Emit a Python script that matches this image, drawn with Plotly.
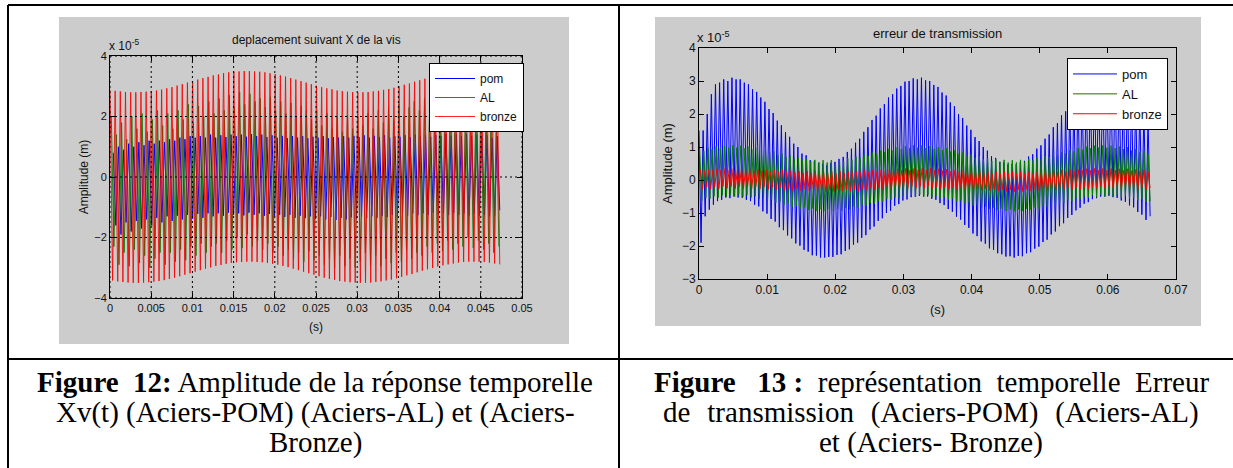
import numpy as np
import plotly.graph_objects as go

W, H = 1233, 468

# ---------------- Figure 12 : displacement along X (units of 1e-5 m) ----------------
P1_T_END = 0.0473
P1_XTICKS = [0, 0.005, 0.01, 0.015, 0.02, 0.025, 0.03, 0.035, 0.04, 0.045, 0.05]
P1_XTICKTEXT = ["0", "0.005", "0.01", "0.015", "0.02", "0.025", "0.03", "0.035", "0.04", "0.045", "0.05"]
P1_YTICKS = [-4, -2, 0, 2, 4]

# per-cycle upper / lower peaks
P1_POM_UP = [0.8, 1.0, 0.9, 1.1, 1.0, 1.15, 1.05, 1.2, 1.1, 1.2,
             1.15, 1.25, 1.2, 1.3, 1.25, 1.35, 1.3, 1.35, 1.3, 1.4,
             1.3, 1.38, 1.32, 1.4, 1.35, 1.4, 1.33, 1.42, 1.35, 1.4,
             1.32, 1.38, 1.3, 1.36, 1.28, 1.35, 1.3, 1.35, 1.28, 1.33,
             1.3, 1.35, 1.28, 1.32, 1.3, 1.35, 1.3, 1.36, 1.32, 1.38,
             1.3, 1.36, 1.32, 1.38, 1.3, 1.35, 1.33, 1.38, 1.32, 1.4,
             1.35, 1.4, 1.33, 1.38, 1.35, 1.42, 1.36, 1.4, 1.35, 1.42,
             1.36, 1.4, 1.35, 1.38, 1.3, 1.35]
P1_POM_LO = [-1.6, -1.9, -1.5, -1.8, -1.45, -1.7, -1.4, -1.6, -1.35, -1.5,
             -1.3, -1.45, -1.28, -1.4, -1.25, -1.38, -1.22, -1.35, -1.2, -1.3,
             -1.2, -1.28, -1.18, -1.25, -1.2, -1.27, -1.18, -1.25, -1.2, -1.28,
             -1.22, -1.3, -1.25, -1.32, -1.25, -1.35, -1.28, -1.36, -1.3, -1.38,
             -1.3, -1.4, -1.32, -1.42, -1.35, -1.4, -1.33, -1.38, -1.3, -1.36,
             -1.3, -1.35, -1.28, -1.32, -1.25, -1.3, -1.22, -1.28, -1.2, -1.26,
             -1.2, -1.25, -1.18, -1.24, -1.2, -1.26, -1.18, -1.25, -1.2, -1.27,
             -1.22, -1.28, -1.25, -1.3, -1.28, -1.1]
P1_AL_UP = [2.0, 1.4, 1.8, 1.25, 2.0, 1.6, 2.1, 1.5, 1.9, 2.2,
            1.7, 2.1, 1.6, 2.2, 1.9, 2.4, 1.8, 2.35, 2.0, 2.5,
            2.1, 2.6, 2.2, 2.7, 2.3, 2.8, 2.4, 2.75, 2.5, 2.6,
            2.3, 2.65, 2.2, 2.5, 2.1, 2.45, 2.0, 2.35, 2.2, 1.9,
            2.2, 1.7, 2.1, 1.6, 2.0, 1.5, 2.05, 1.6, 2.0, 1.7,
            2.1, 1.6, 2.2, 1.8, 2.3, 1.9, 2.4, 2.0, 2.3, 2.5,
            2.2, 2.6, 2.3, 2.65, 2.4, 2.7, 2.5, 2.8, 2.6, 2.5,
            2.65, 2.3, 2.6, 2.2, 2.5, 2.0]
P1_AL_LO = [-2.3, -2.9, -2.5, -2.95, -2.4, -2.85, -2.6, -3.0, -2.7, -2.5,
            -2.9, -2.5, -2.8, -2.4, -2.75, -2.3, -2.6, -2.2, -2.5, -2.3,
            -2.2, -2.5, -2.1, -2.4, -2.0, -2.35, -1.9, -2.3, -2.1, -2.4,
            -2.2, -2.5, -2.3, -2.6, -2.4, -2.7, -2.5, -2.8, -2.45, -2.75,
            -2.6, -2.9, -2.7, -3.0, -2.6, -2.95, -2.7, -3.0, -2.8, -2.5,
            -2.9, -2.6, -2.95, -2.7, -2.85, -2.5, -2.8, -2.4, -2.7, -2.5,
            -2.6, -2.3, -2.5, -2.2, -2.45, -2.1, -2.4, -2.2, -2.3, -2.0,
            -2.35, -2.1, -2.4, -2.2, -2.5, -2.3]
P1_BRONZE_UP = [2.88, 2.85, 2.83, 2.81, 2.80, 2.80, 2.81, 2.82, 2.84, 2.86,
                2.89, 2.93, 2.97, 3.02, 3.07, 3.12, 3.17, 3.22, 3.27, 3.31,
                3.36, 3.39, 3.43, 3.46, 3.48, 3.49, 3.50, 3.50, 3.49, 3.48,
                3.46, 3.43, 3.40, 3.36, 3.32, 3.27, 3.22, 3.17, 3.12, 3.07,
                3.02, 2.97, 2.93, 2.90, 2.86, 2.84, 2.82, 2.81, 2.80, 2.80,
                2.81, 2.83, 2.85, 2.88, 2.91, 2.95, 3.00, 3.05, 3.09, 3.15,
                3.20, 3.25, 3.29, 3.34, 3.38, 3.41, 3.44, 3.47, 3.49, 3.50,
                3.50, 3.50, 3.49, 3.47, 3.44, 3.41]
P1_BRONZE_LO = [-3.42, -3.45, -3.47, -3.49, -3.50, -3.50, -3.49, -3.48, -3.46, -3.44,
                -3.41, -3.37, -3.33, -3.28, -3.23, -3.18, -3.13, -3.08, -3.03, -2.99,
                -2.94, -2.91, -2.87, -2.84, -2.82, -2.81, -2.80, -2.80, -2.81, -2.82,
                -2.84, -2.87, -2.90, -2.94, -2.98, -3.03, -3.08, -3.13, -3.18, -3.23,
                -3.28, -3.33, -3.37, -3.40, -3.44, -3.46, -3.48, -3.49, -3.50, -3.50,
                -3.49, -3.47, -3.45, -3.42, -3.39, -3.35, -3.30, -3.25, -3.21, -3.15,
                -3.10, -3.05, -3.01, -2.96, -2.92, -2.89, -2.86, -2.83, -2.81, -2.80,
                -2.80, -2.80, -2.81, -2.83, -2.86, -2.89]

# ---------------- Figure 13 : transmission error (units of 1e-5 m) ----------------
P2_T_END = 0.0662
P2_XTICKS = [0, 0.01, 0.02, 0.03, 0.04, 0.05, 0.06, 0.07]
P2_XTICKTEXT = ["0", "0.01", "0.02", "0.03", "0.04", "0.05", "0.06", "0.07"]
P2_YTICKS = [-3, -2, -1, 0, 1, 2, 3, 4]

P2_POM_UP = [1.5, 1.5, 2.0, 2.6, 2.9, 2.95, 3.05, 3.0, 3.1, 3.05,
             3.05, 2.95, 2.9, 2.75, 2.67, 2.5, 2.37, 2.15, 2.03, 1.8,
             1.66, 1.45, 1.31, 1.1, 1.0, 0.8, 0.75, 0.6, 0.57, 0.5,
             0.49, 0.45, 0.52, 0.55, 0.64, 0.7, 0.85, 0.95, 1.13, 1.25,
             1.46, 1.6, 1.82, 1.95, 2.17, 2.3, 2.5, 2.6, 2.77, 2.85,
             2.98, 3.0, 3.08, 3.05, 3.1, 3.02, 3.0, 2.88, 2.82, 2.65,
             2.56, 2.35, 2.24, 2.0, 1.88, 1.65, 1.52, 1.3, 1.18, 1.0,
             0.89, 0.72, 0.67, 0.55, 0.53, 0.47, 0.49, 0.48, 0.55, 0.58,
             0.71, 0.78, 0.95, 1.05, 1.25, 1.38, 1.6, 1.72, 1.96, 2.08,
             2.31, 2.4, 2.62, 2.7, 2.86, 2.9, 3.03, 3.0, 3.1, 3.05,
             3.07, 2.95, 2.94, 2.78, 2.72, 2.52, 2.43, 2.2, 2.1, 1.85]
P2_POM_LO = [-1.9, -1.1, -0.9, -0.75, -0.64, -0.6, -0.53, -0.55, -0.5, -0.53,
             -0.54, -0.6, -0.64, -0.75, -0.8, -0.95, -1.02, -1.18, -1.26, -1.43,
             -1.52, -1.68, -1.77, -1.92, -1.99, -2.12, -2.17, -2.28, -2.29, -2.35,
             -2.35, -2.33, -2.33, -2.27, -2.25, -2.15, -2.1, -1.96, -1.9, -1.75,
             -1.67, -1.5, -1.41, -1.24, -1.16, -1.0, -0.93, -0.78, -0.73, -0.62,
             -0.59, -0.52, -0.51, -0.48, -0.5, -0.5, -0.57, -0.6, -0.7, -0.76,
             -0.88, -0.96, -1.11, -1.2, -1.36, -1.45, -1.62, -1.7, -1.86, -1.93,
             -2.07, -2.12, -2.22, -2.25, -2.32, -2.31, -2.35, -2.3, -2.31, -2.22,
             -2.19, -2.08, -2.02, -1.88, -1.81, -1.65, -1.56, -1.4, -1.31, -1.15,
             -1.06, -0.92, -0.84, -0.72, -0.67, -0.58, -0.55, -0.5, -0.5, -0.48,
             -0.52, -0.54, -0.62, -0.66, -0.77, -0.83, -0.97, -1.05, -1.21, -1.1]
P2_AL_UP = [0.93, 0.88, 0.98, 0.93, 1.02, 0.96, 1.04, 0.98, 1.05, 0.98,
            1.04, 0.96, 1.02, 0.93, 0.98, 0.88, 0.92, 0.83, 0.87, 0.76,
            0.80, 0.70, 0.74, 0.64, 0.69, 0.59, 0.64, 0.56, 0.61, 0.54,
            0.60, 0.53, 0.60, 0.54, 0.63, 0.57, 0.66, 0.61, 0.71, 0.67,
            0.77, 0.73, 0.83, 0.79, 0.89, 0.85, 0.95, 0.90, 0.99, 0.94,
            1.03, 0.97, 1.05, 0.98, 1.05, 0.97, 1.03, 0.95, 1.00, 0.91,
            0.96, 0.86, 0.90, 0.80, 0.84, 0.74, 0.78, 0.68, 0.72, 0.62,
            0.67, 0.58, 0.63, 0.55, 0.61, 0.53, 0.60, 0.53, 0.61, 0.55,
            0.64, 0.59, 0.68, 0.63, 0.73, 0.69, 0.79, 0.75, 0.85, 0.81,
            0.91, 0.87, 0.97, 0.92, 1.01, 0.96, 1.04, 0.98, 1.05, 0.98,
            1.04, 0.97, 1.02, 0.94, 0.99, 0.89, 0.94, 0.84, 0.88, 0.78]
P2_AL_LO = [-0.63, -0.54, -0.57, -0.49, -0.53, -0.46, -0.51, -0.44, -0.50, -0.44,
            -0.51, -0.46, -0.53, -0.49, -0.57, -0.54, -0.63, -0.60, -0.69, -0.66,
            -0.75, -0.72, -0.81, -0.78, -0.86, -0.83, -0.91, -0.86, -0.94, -0.89,
            -0.95, -0.89, -0.95, -0.88, -0.93, -0.85, -0.89, -0.81, -0.84, -0.75,
            -0.78, -0.69, -0.72, -0.63, -0.66, -0.57, -0.60, -0.52, -0.56, -0.48,
            -0.52, -0.45, -0.50, -0.44, -0.50, -0.45, -0.52, -0.47, -0.55, -0.51,
            -0.59, -0.56, -0.65, -0.62, -0.71, -0.68, -0.77, -0.74, -0.83, -0.80,
            -0.88, -0.84, -0.92, -0.87, -0.94, -0.89, -0.95, -0.89, -0.94, -0.87,
            -0.91, -0.83, -0.87, -0.79, -0.82, -0.73, -0.76, -0.67, -0.70, -0.61,
            -0.64, -0.55, -0.58, -0.50, -0.54, -0.46, -0.51, -0.44, -0.50, -0.44,
            -0.51, -0.46, -0.53, -0.48, -0.57, -0.53, -0.62, -0.58, -0.67, -0.64]
P2_BRONZE_UP = [0.32, 0.28, 0.33, 0.29, 0.34, 0.30, 0.35, 0.30, 0.35, 0.30,
                0.35, 0.30, 0.34, 0.29, 0.33, 0.28, 0.32, 0.27, 0.31, 0.25,
                0.29, 0.24, 0.28, 0.23, 0.27, 0.21, 0.26, 0.21, 0.25, 0.20,
                0.25, 0.20, 0.25, 0.20, 0.26, 0.21, 0.26, 0.22, 0.27, 0.23,
                0.29, 0.24, 0.30, 0.26, 0.31, 0.27, 0.33, 0.28, 0.34, 0.29,
                0.35, 0.30, 0.35, 0.30, 0.35, 0.30, 0.35, 0.29, 0.34, 0.28,
                0.33, 0.27, 0.32, 0.26, 0.30, 0.25, 0.29, 0.23, 0.28, 0.22,
                0.27, 0.21, 0.26, 0.20, 0.25, 0.20, 0.25, 0.20, 0.25, 0.20,
                0.26, 0.21, 0.27, 0.22, 0.28, 0.24, 0.29, 0.25, 0.31, 0.26,
                0.32, 0.28, 0.33, 0.29, 0.34, 0.29, 0.35, 0.30, 0.35, 0.30,
                0.35, 0.30, 0.34, 0.29, 0.34, 0.28, 0.32, 0.27, 0.31, 0.25]
P2_BRONZE_LO = [-0.28, -0.21, -0.27, -0.20, -0.26, -0.19, -0.25, -0.19, -0.25, -0.19,
                -0.25, -0.19, -0.26, -0.20, -0.27, -0.21, -0.28, -0.22, -0.29, -0.24,
                -0.31, -0.25, -0.32, -0.26, -0.33, -0.28, -0.34, -0.28, -0.35, -0.29,
                -0.35, -0.29, -0.35, -0.29, -0.34, -0.28, -0.34, -0.27, -0.33, -0.26,
                -0.31, -0.25, -0.30, -0.23, -0.29, -0.22, -0.27, -0.21, -0.26, -0.20,
                -0.25, -0.19, -0.25, -0.19, -0.25, -0.19, -0.25, -0.20, -0.26, -0.21,
                -0.27, -0.22, -0.28, -0.23, -0.30, -0.24, -0.31, -0.26, -0.32, -0.27,
                -0.33, -0.28, -0.34, -0.29, -0.35, -0.29, -0.35, -0.29, -0.35, -0.29,
                -0.34, -0.28, -0.33, -0.27, -0.32, -0.25, -0.31, -0.24, -0.29, -0.23,
                -0.28, -0.21, -0.27, -0.20, -0.26, -0.20, -0.25, -0.19, -0.25, -0.19,
                -0.25, -0.19, -0.26, -0.20, -0.26, -0.21, -0.28, -0.22, -0.29, -0.24]

SERIES_NAMES = ["pom", "AL", "bronze"]
SERIES_COLORS = ["#0000FF", "#008000", "#FF0000"]

NB = "\u00a0"      # extra space used to mimic the justified caption lines
TS = "\u2004"
CAPTION_12 = ["<b>Figure" + NB + NB + "12:</b> Amplitude de la réponse temporelle",
              "Xv(t) (Aciers-POM) (Aciers-AL) et (Aciers-",
              "Bronze)"]
CAPTION_13 = ["<b>Figure" + NB + NB + NB + "13" + NB + ":</b>" + NB + " représentation" + NB
              + " temporelle" + NB + " Erreur",
              "de" + TS + " transmission" + TS + " (Aciers-POM)" + TS + " (Aciers-AL)",
              "et (Aciers- Bronze)"]


def px_x(p):
    return p / W


def px_y(p):
    return 1 - p / H


def zigzag(up, lo, t0, t1):
    y = []
    for a, b in zip(up, lo):
        y += [a, b]
    x = np.linspace(t0, t1, len(y))
    return x, y


fig = go.Figure()

# (up, lo, start, end, width)
p1 = [(P1_POM_UP, P1_POM_LO, 0.0004, P1_T_END, 1.0),
      (P1_AL_UP, P1_AL_LO, 0.00016, P1_T_END - 0.0001, 0.9),
      (P1_BRONZE_UP, P1_BRONZE_LO, 0.0, P1_T_END, 0.85)]
for (up, lo, t0, t1, lw), name, col in zip(p1, SERIES_NAMES, SERIES_COLORS):
    x, y = zigzag(up, lo, t0, t1)
    fig.add_trace(go.Scatter(x=x, y=y, mode="lines", name=name, line=dict(color=col, width=lw),
                             xaxis="x", yaxis="y", legend="legend", hoverinfo="skip"))

p2 = [(P2_POM_UP, P2_POM_LO, 0.0), (P2_AL_UP, P2_AL_LO, 0.0001), (P2_BRONZE_UP, P2_BRONZE_LO, 0.0002)]
for (up, lo, t0), name, col in zip(p2, SERIES_NAMES, SERIES_COLORS):
    x, y = zigzag(up, lo, t0, P2_T_END)
    fig.add_trace(go.Scatter(x=x, y=y, mode="lines", name=name, line=dict(color=col, width=1),
                             xaxis="x2", yaxis="y2", legend="legend2", hoverinfo="skip"))

SANS = "Liberation Sans, Arial, sans-serif"
F1 = dict(family=SANS, size=11, color="#111111")
F1T = dict(family=SANS, size=12, color="#111111")
F1L = dict(family=SANS, size=12, color="#111111")
F2 = dict(family=SANS, size=12, color="#111111")
F2T = dict(family=SANS, size=13, color="#111111")


def axis_common(font):
    return dict(showline=True, linecolor="black", linewidth=1, mirror="ticks",
                ticks="inside", ticklen=5, tickcolor="black", tickfont=font,
                zeroline=False, showgrid=False, fixedrange=True)


fig.update_layout(
    width=W, height=H, margin=dict(l=0, r=0, t=0, b=0),
    template="none", paper_bgcolor="white", plot_bgcolor="white",
    xaxis=dict(domain=[px_x(110), px_x(522)], range=[0, 0.05], tickvals=P1_XTICKS,
               ticktext=P1_XTICKTEXT, anchor="y",
               title=dict(text="(s)", font=F1T, standoff=9), **axis_common(F1)),
    yaxis=dict(domain=[px_y(298), px_y(56)], range=[-4, 4], tickvals=P1_YTICKS, anchor="x",
               title=dict(text="Amplitude (m)", font=F1T, standoff=3), **axis_common(F1)),
    xaxis2=dict(domain=[px_x(699), px_x(1176)], range=[0, 0.07], tickvals=P2_XTICKS,
                ticktext=P2_XTICKTEXT, anchor="y2",
                title=dict(text="(s)", font=F2T, standoff=8), **axis_common(F2)),
    yaxis2=dict(domain=[px_y(279), px_y(48)], range=[-3, 4], tickvals=P2_YTICKS, anchor="x2",
                title=dict(text="Amplitude (m)", font=F2T, standoff=6), **axis_common(F2)),
    legend=dict(x=px_x(429), y=px_y(63), xanchor="left", yanchor="top", bgcolor="white",
                bordercolor="black", borderwidth=1, font=F1L, tracegroupgap=0, itemwidth=40),
    legend2=dict(x=px_x(1067), y=px_y(58), xanchor="left", yanchor="top", bgcolor="white",
                 bordercolor="black", borderwidth=1, font=F2T, tracegroupgap=0, itemwidth=44),
    showlegend=True,
)

shapes = []
# grey MATLAB figure panels
shapes.append(dict(type="rect", xref="paper", yref="paper", x0=px_x(59), x1=px_x(569),
                   y0=px_y(344), y1=px_y(17), fillcolor="#CCCCCC", line=dict(width=0), layer="below"))
shapes.append(dict(type="rect", xref="paper", yref="paper", x0=px_x(655), x1=px_x(1201),
                   y0=px_y(326), y1=px_y(17), fillcolor="#CCCCCC", line=dict(width=0), layer="below"))
# dotted grid of figure 12, drawn over the curves like MATLAB
for xv in P1_XTICKS:
    shapes.append(dict(type="line", xref="x", yref="y domain", x0=xv, x1=xv, y0=0, y1=1,
                       line=dict(color="black", width=1, dash="2px,3px"), layer="above"))
for yv in P1_YTICKS:
    shapes.append(dict(type="line", xref="x domain", yref="y", x0=0, x1=1, y0=yv, y1=yv,
                       line=dict(color="black", width=1, dash="2px,3px"), layer="above"))
# table borders
LINE = dict(color="black", width=2)
shapes.append(dict(type="line", xref="paper", yref="paper", x0=px_x(8), x1=1, y0=px_y(5), y1=px_y(5), line=LINE))
shapes.append(dict(type="line", xref="paper", yref="paper", x0=px_x(8), x1=px_x(8), y0=px_y(5), y1=0, line=LINE))
shapes.append(dict(type="line", xref="paper", yref="paper", x0=px_x(619), x1=px_x(619), y0=px_y(5), y1=0, line=LINE))
shapes.append(dict(type="line", xref="paper", yref="paper", x0=px_x(8), x1=1, y0=px_y(359), y1=px_y(359), line=LINE))
fig.update_layout(shapes=shapes)

ann = []
ann.append(dict(text="deplacement suivant X de la vis", x=px_x(316), y=px_y(40), xref="paper", yref="paper",
                showarrow=False, font=F1T, xanchor="center", yanchor="middle"))
ann.append(dict(text="erreur de transmission", x=px_x(937), y=px_y(34), xref="paper", yref="paper",
                showarrow=False, font=F2T, xanchor="center", yanchor="middle"))
ann.append(dict(text="x 10<sup>-5</sup>", x=px_x(107), y=px_y(45), xref="paper", yref="paper",
                showarrow=False, font=F1T, xanchor="left", yanchor="middle"))
ann.append(dict(text="x 10<sup>-5</sup>", x=px_x(695), y=px_y(37), xref="paper", yref="paper",
                showarrow=False, font=F2T, xanchor="left", yanchor="middle"))

CAP_FONT = dict(family="Liberation Serif, Times New Roman, serif", size=29, color="black")
for i, line in enumerate(CAPTION_12):
    ann.append(dict(text=line, x=px_x(315), y=px_y(382 + 30 * i), xref="paper", yref="paper",
                    showarrow=False, font=CAP_FONT, xanchor="center", yanchor="middle"))
for i, line in enumerate(CAPTION_13):
    ann.append(dict(text=line, x=px_x(931), y=px_y(382 + 30 * i), xref="paper", yref="paper",
                    showarrow=False, font=CAP_FONT, xanchor="center", yanchor="middle"))
fig.update_layout(annotations=ann)

fig.write_html("out.html", config={"displayModeBar": False},
               post_script="document.body.style.margin='0';document.body.style.overflow='hidden';")
